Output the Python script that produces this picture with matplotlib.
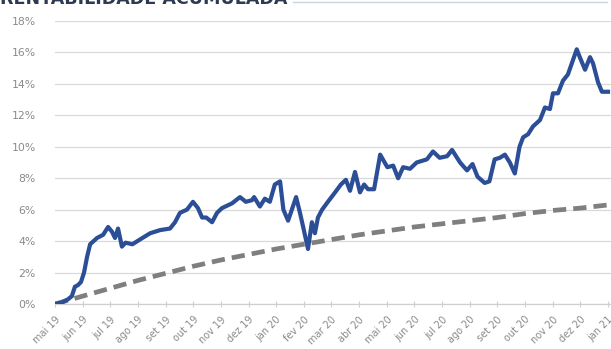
import matplotlib
matplotlib.use("Agg")
import matplotlib.pyplot as plt
import matplotlib.transforms as mtransforms
from matplotlib.lines import Line2D
from matplotlib.ticker import FuncFormatter

# -----------------------------------------------------------------------
# Data (x = months since mai 19)
# -----------------------------------------------------------------------
month_labels = ["mai 19", "jun 19", "jul 19", "ago 19", "set 19", "out 19",
                "nov 19", "dez 19", "jan 20", "fev 20", "mar 20", "abr 20",
                "mai 20", "jun 20", "jul 20", "ago 20", "set 20", "out 20",
                "nov 20", "dez 20", "jan 21"]

fund_x = [0.00, 0.25, 0.47, 0.61, 0.72, 0.83, 0.94, 1.05, 1.16, 1.27,
          1.52, 1.74, 1.92, 2.06, 2.17, 2.28, 2.42, 2.55, 2.80, 3.07,
          3.44, 3.80, 4.16, 4.34, 4.52, 4.77, 4.99, 5.17, 5.32, 5.47,
          5.68, 5.86, 6.04, 6.40, 6.69, 6.90, 7.12, 7.20, 7.41, 7.59,
          7.77, 7.95, 8.14, 8.26, 8.43, 8.72, 8.86, 9.00, 9.15, 9.29,
          9.40, 9.51, 9.66, 9.87, 10.13, 10.34, 10.52, 10.67, 10.85, 11.03,
          11.18, 11.32, 11.54, 11.76, 12.02, 12.23, 12.41, 12.59, 12.84, 13.08,
          13.45, 13.67, 13.91, 14.18, 14.36, 14.65, 14.90, 15.10, 15.28, 15.54,
          15.71, 15.90, 16.09, 16.27, 16.45, 16.63, 16.80, 16.93, 17.11, 17.29,
          17.54, 17.72, 17.90, 18.01, 18.19, 18.37, 18.55, 18.69, 18.87, 18.98,
          19.17, 19.35, 19.46, 19.64, 19.78, 19.89, 20.00]
fund_y = [0.0, 0.1, 0.3, 0.5, 1.1, 1.2, 1.4, 2.0, 3.0, 3.8,
          4.2, 4.4, 4.9, 4.6, 4.2, 4.8, 3.65, 3.9, 3.8, 4.1,
          4.5, 4.7, 4.8, 5.2, 5.8, 6.0, 6.5, 6.1, 5.5, 5.5,
          5.2, 5.8, 6.1, 6.4, 6.8, 6.5, 6.6, 6.8, 6.2, 6.7,
          6.5, 7.6, 7.8, 6.0, 5.3, 6.8, 5.8, 4.7, 3.5, 5.2,
          4.5, 5.5, 6.0, 6.5, 7.1, 7.6, 7.9, 7.2, 8.4, 7.1,
          7.6, 7.3, 7.3, 9.5, 8.7, 8.8, 8.0, 8.7, 8.6, 9.0,
          9.2, 9.7, 9.3, 9.4, 9.8, 9.0, 8.5, 8.9, 8.1, 7.7,
          7.8, 9.2, 9.3, 9.5, 9.0, 8.3, 10.0, 10.6, 10.8, 11.3,
          11.7, 12.5, 12.4, 13.4, 13.4, 14.2, 14.6, 15.3, 16.2, 15.7,
          14.9, 15.7, 15.3, 14.1, 13.5, 13.5, 13.5]

bench_x = list(range(21))
bench_y = [0.0, 0.5, 1.0, 1.5, 1.95, 2.4, 2.8, 3.15, 3.5, 3.8,
           4.1, 4.4, 4.65, 4.9, 5.1, 5.3, 5.5, 5.75, 5.95, 6.1, 6.3]

title = "RENTABILIDADE ACUMULADA"

# -----------------------------------------------------------------------
# Plot
# -----------------------------------------------------------------------
W, H = 611, 349
fig = plt.figure(figsize=(W / 100, H / 100), dpi=100)
ax = fig.add_axes([55 / W, 1 - 304 / H, (W - 55) / W, (304 - 21) / H])

grey = "#8a8a8a"
ax.set_xlim(0, (W - 55) / 27.65)
ax.set_ylim(0, 18)
ax.set_yticks(range(0, 19, 2))
ax.yaxis.set_major_formatter(FuncFormatter(lambda v, _: f"{v:.0f}%"))
ax.grid(axis="y", color="#d9d9d9", linewidth=0.9)
ax.set_axisbelow(True)

ax.set_xticks(range(len(month_labels)))
ax.set_xticklabels(month_labels, rotation=45, ha="right",
                   rotation_mode="anchor")
shift = mtransforms.ScaledTranslation(-3 / 100, 0, fig.dpi_scale_trans)
for lbl in ax.get_xticklabels():
    lbl.set_transform(lbl.get_transform() + shift)

for side in ["top", "right", "left"]:
    ax.spines[side].set_visible(False)
ax.spines["bottom"].set_color("#cfcfcf")
ax.spines["bottom"].set_linewidth(0.9)

ax.tick_params(axis="y", length=0, pad=14, labelsize=7.8, labelcolor=grey)
ax.tick_params(axis="x", direction="inout", length=5, color="#cfcfcf",
               pad=5, labelsize=7, labelcolor=grey)

ax.plot(bench_x, bench_y, color="#7f7f7f", linewidth=3.4,
        linestyle=(0, (2.8, 1.5)), zorder=2)
ax.plot(fund_x, fund_y, color="#2b4e97", linewidth=3.0,
        solid_joinstyle="round", zorder=3)

fig.text(0.0, 1 - 4 / H, title, fontsize=12.6, fontweight="bold",
         color="#2e3a52", ha="left", va="baseline")
fig.add_artist(Line2D([293 / W, 607 / W], [1 - 1.5 / H, 1 - 1.5 / H],
                      color="#c9d3e0", linewidth=1.0))

fig.savefig("out.png", dpi=100)
